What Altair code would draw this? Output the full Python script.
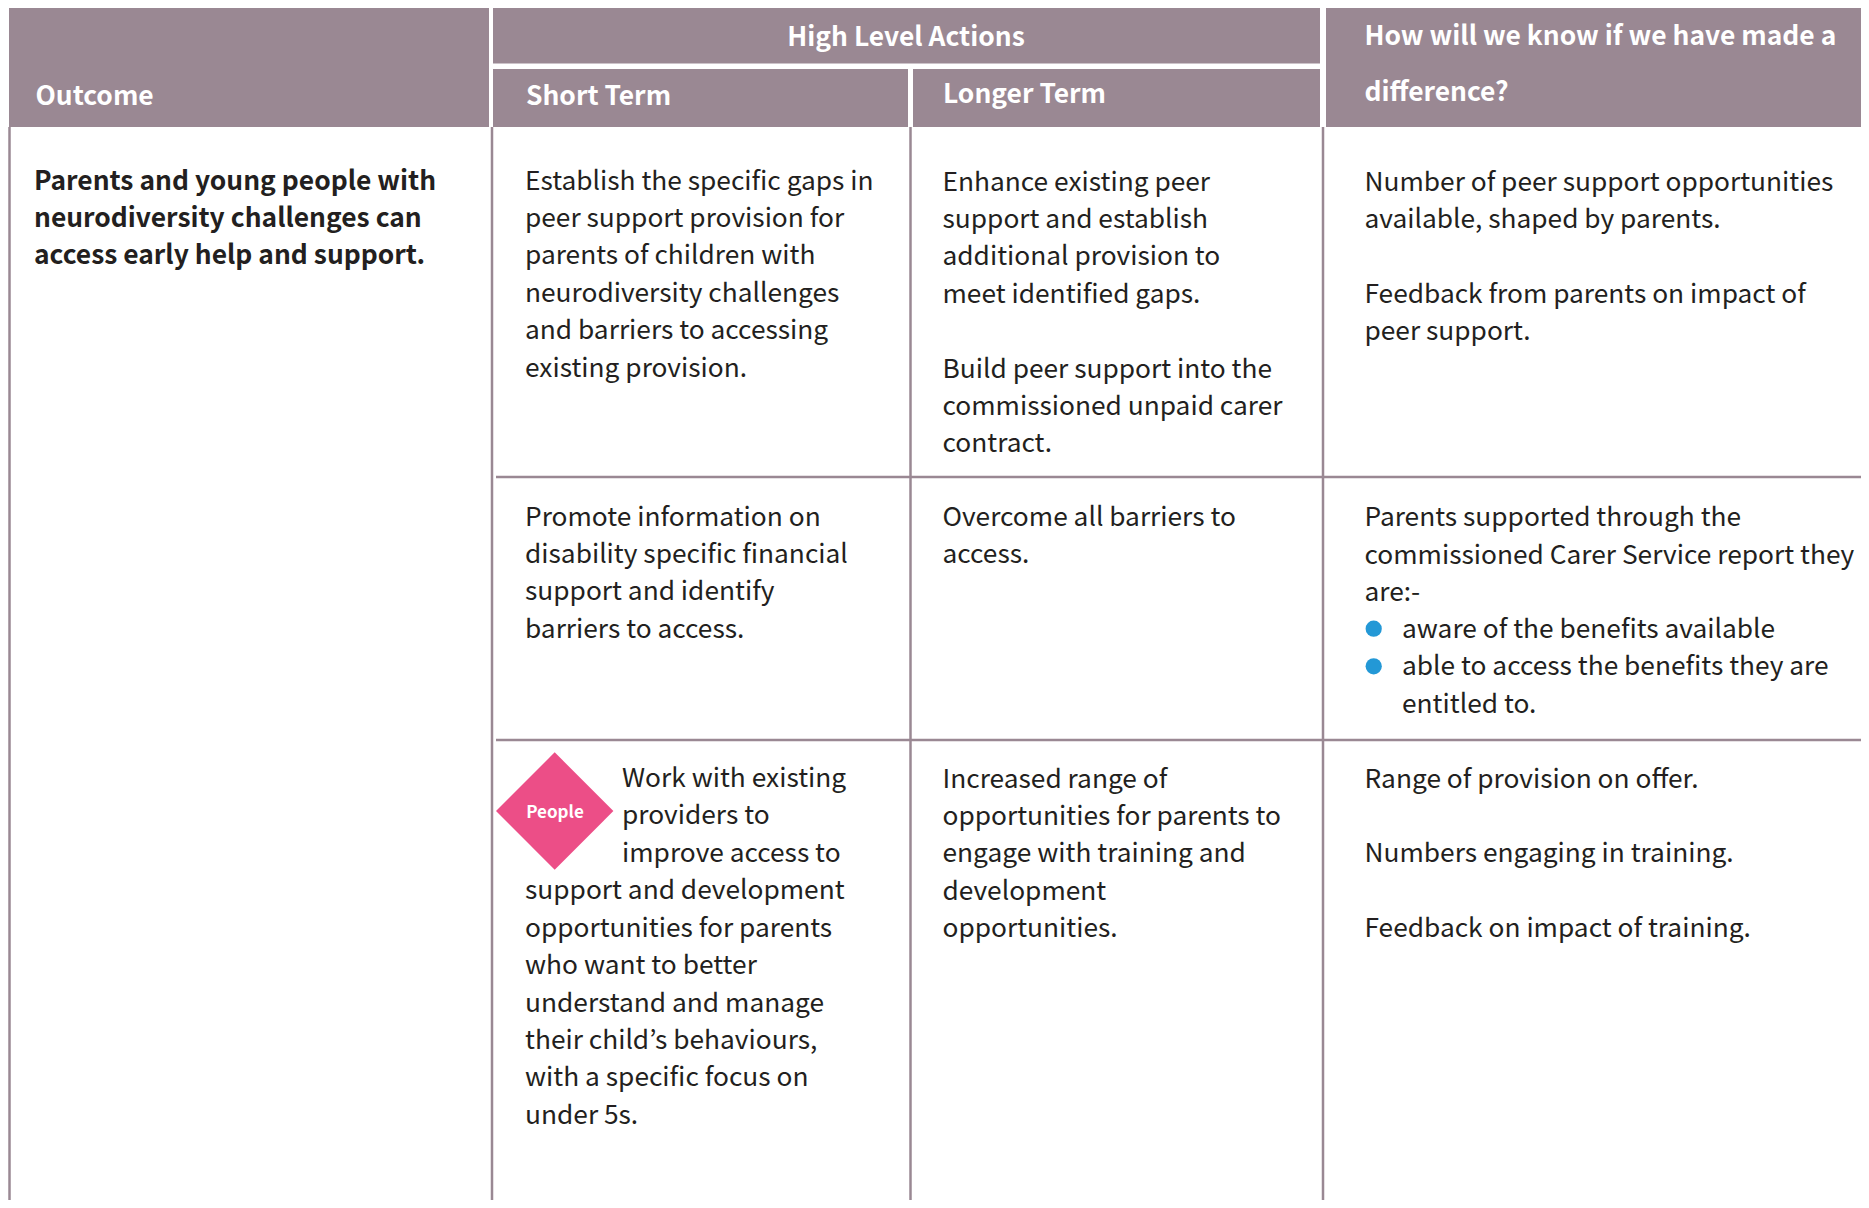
import altair as alt
import pandas as pd

FONT = "Noto Sans CJK KR"
MAUVE = "#9A8893"
INK = "#231F20"
SIZE = 26.3
BOLD_SIZE = 26.4

# ---- text content
outcome = ["Parents and young people with", "neurodiversity challenges can", "access early help and support."]
short_1 = ["Establish the specific gaps in", "peer support provision for", "parents of children with",
           "neurodiversity challenges", "and barriers to accessing", "existing provision."]
longer_1 = ["Enhance existing peer", "support and establish", "additional provision to", "meet identified gaps.", "",
            "Build peer support into the", "commissioned unpaid carer", "contract."]
measure_1 = ["Number of peer support opportunities", "available, shaped by parents.", "",
             "Feedback from parents on impact of", "peer support."]
short_2 = ["Promote information on", "disability specific financial", "support and identify", "barriers to access."]
longer_2 = ["Overcome all barriers to", "access."]
measure_2 = ["Parents supported through the", "commissioned Carer Service report they", "are:-"]
bullets_2 = ["aware of the benefits available", "able to access the benefits they are", "entitled to."]
short_3a = ["Work with existing", "providers to", "improve access to"]
short_3b = ["support and development", "opportunities for parents", "who want to better",
            "understand and manage", "their child\u2019s behaviours,", "with a specific focus on", "under 5s."]
longer_3 = ["Increased range of", "opportunities for parents to", "engage with training and",
            "development", "opportunities."]
measure_3 = ["Range of provision on offer.", "", "Numbers engaging in training.", "", "Feedback on impact of training."]

# ---- table geometry, in reference pixels
LINE = 37.4
X0, X1, X2, X3, XEND = 9.5, 492, 910.5, 1323, 1861
YEND = 1200
TX_OUT, TX_SHORT, TX_LONG, TX_MEAS, TX_BUL, TX_WRAP = 34, 525, 942.5, 1364.5, 1402, 622

header_x = [9, 493, 493, 913, 1326]
header_x2 = [489, 1320, 908, 1320, XEND]
header_y = [5, 5, 69, 69, 5]
header_y2 = [127, 63.5, 127, 127, 127]

vline_x = [X0, X1, X2, X3]
hline_y = [477, 740]


def lines(texts, x, y0):
    return [{"x": x, "y": y0 + i * LINE, "t": t} for i, t in enumerate(texts) if t]


body = (lines(short_1, TX_SHORT, 189.5) + lines(longer_1, TX_LONG, 190.5) + lines(measure_1, TX_MEAS, 190.5)
        + lines(short_2, TX_SHORT, 525.5) + lines(longer_2, TX_LONG, 526) + lines(measure_2, TX_MEAS, 526.3)
        + lines(bullets_2, TX_BUL, 637.8) + lines(short_3a, TX_WRAP, 787) + lines(short_3b, TX_SHORT, 899.3)
        + lines(longer_3, TX_LONG, 787.5) + lines(measure_3, TX_MEAS, 787.5))
bold = lines(outcome, TX_OUT, 189.5)
heads = [{"x": 35.5, "y": 105, "t": "Outcome"}, {"x": 526, "y": 105, "t": "Short Term"},
         {"x": 943, "y": 103, "t": "Longer Term"}, {"x": 1364.5, "y": 45, "t": "How will we know if we have made a"},
         {"x": 1364.5, "y": 101, "t": "difference?"}]
centre_heads = [{"x": 906, "y": 46, "t": "High Level Actions"}]

xs = alt.Scale(domain=[8, XEND], clamp=True, nice=False, zero=False)
ys = alt.Scale(domain=[YEND, 8], clamp=True, nice=False, zero=False)
X = alt.X("x:Q", scale=xs, axis=None)
Y = alt.Y("y:Q", scale=ys, axis=None)

rects = alt.Chart(pd.DataFrame({"x": header_x, "x2": header_x2, "y": header_y, "y2": header_y2})).mark_rect(
    color=MAUVE).encode(x=X, x2="x2:Q", y=Y, y2="y2:Q")
vlines = alt.Chart(pd.DataFrame({"x": vline_x, "y": [127] * 4, "y2": [YEND] * 4})).mark_rule(
    color=MAUVE, strokeWidth=2.5).encode(x=X, y=Y, y2="y2:Q")
hlines = alt.Chart(pd.DataFrame({"x": [496] * 2, "x2": [XEND] * 2, "y": hline_y})).mark_rule(
    color=MAUVE, strokeWidth=2.5).encode(x=X, x2="x2:Q", y=Y)


def text_layer(rows, size, color, weight="normal", align="left"):
    return alt.Chart(pd.DataFrame(rows)).mark_text(
        font=FONT, fontSize=size, color=color, fontWeight=weight, align=align, baseline="alphabetic"
    ).encode(x=X, y=Y, text="t:N")


diamond = alt.Chart(pd.DataFrame({"x": [554.7], "y": [811]})).mark_point(
    shape="diamond", filled=True, opacity=1, color="#EC4E87", size=13783, strokeWidth=0).encode(x=X, y=Y)
dots = alt.Chart(pd.DataFrame({"x": [1373.7, 1373.7], "y": [628.7, 666.3]})).mark_circle(
    color="#2398D6", opacity=1, size=264).encode(x=X, y=Y)

chart = alt.layer(
    rects, vlines, hlines,
    text_layer(body, SIZE, INK),
    text_layer(bold, BOLD_SIZE, INK, "bold"),
    text_layer(heads, BOLD_SIZE, "white", "bold"),
    text_layer(centre_heads, BOLD_SIZE, "white", "bold", "center"),
    diamond, dots,
    text_layer([{"x": 555, "y": 818, "t": "People"}], 17, "white", "bold", "center"),
).properties(width=XEND - 8, height=YEND - 8, padding=0, autosize=alt.AutoSizeParams(type="none"),
             background="white").configure_view(stroke=None)

chart.save("out.html", embed_options={"renderer": "svg", "actions": False})
